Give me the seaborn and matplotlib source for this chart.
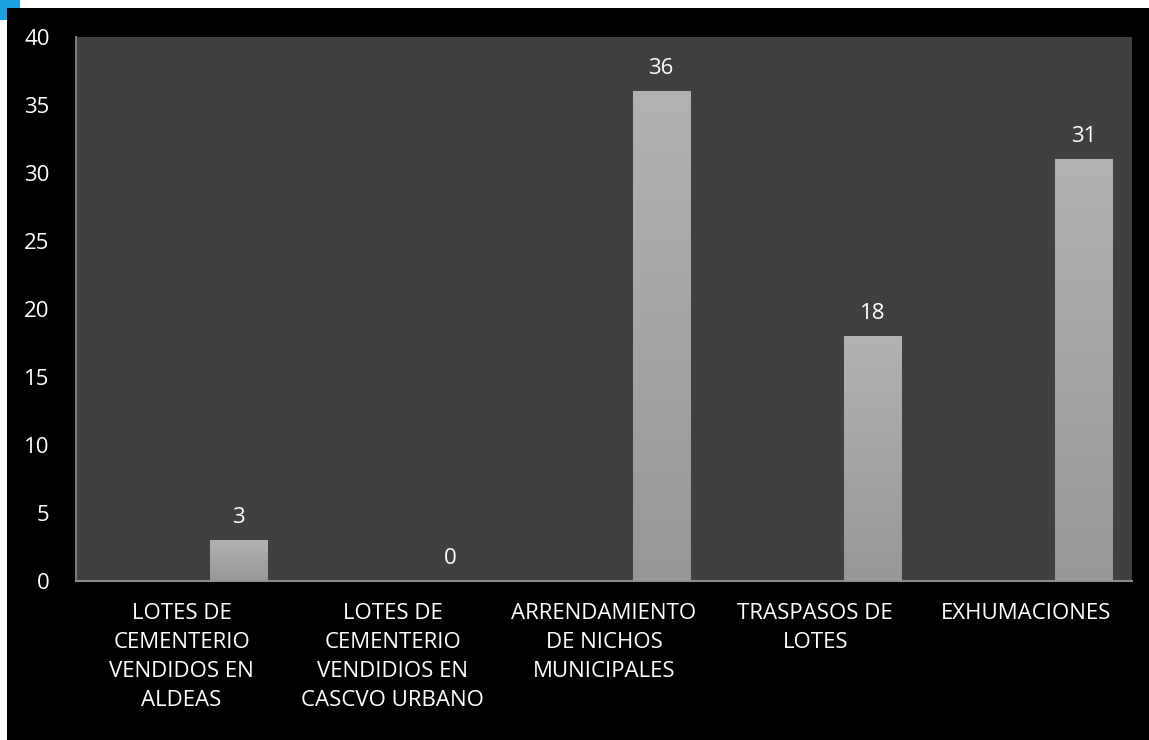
import numpy as np
import pandas as pd
import matplotlib
matplotlib.use("Agg")
from matplotlib import pyplot as plt
import seaborn as sns

# data
categorias = ["LOTES DE\nCEMENTERIO\nVENDIDOS EN\nALDEAS",
              "LOTES DE\nCEMENTERIO\nVENDIDIOS EN\nCASCVO URBANO",
              "ARRENDAMIENTO\nDE NICHOS\nMUNICIPALES",
              "TRASPASOS DE\nLOTES",
              "EXHUMACIONES"]
valores = [3, 0, 36, 18, 31]
series = ["s1", "s2", "s3"]   # the chart is the 3rd series of a 3-series cluster

df = pd.DataFrame({"cat": categorias, "val": valores, "serie": "s3"})

sns.set_theme(style="white")
plt.rcParams["font.family"] = ["Open Sans", "DejaVu Sans"]

fig = plt.figure(figsize=(11.49, 7.40), dpi=100)
fig.patch.set_facecolor("white")
# black chart frame
fig.patches.append(plt.Rectangle((7 / 1149, 0), 1, 1 - 8 / 740, transform=fig.transFigure,
                                 facecolor="black", edgecolor="none", zorder=-10))
# little blue corner mark top-left
fig.patches.append(plt.Polygon([(0, 1), (20 / 1149, 1), (20 / 1149, 1 - 8 / 740), (7 / 1149, 1 - 8 / 740),
                                (7 / 1149, 1 - 20 / 740), (0, 1 - 20 / 740)], closed=True,
                               transform=fig.transFigure, facecolor="#1ea0e0", edgecolor="none", zorder=-5))

ax = fig.add_axes([76 / 1149, 1 - 581 / 740, (1132 - 76) / 1149, (581 - 37) / 740])
ax.set_facecolor("#404040")

sns.barplot(data=df, x="cat", y="val", hue="serie", hue_order=series, order=categorias,
            width=0.81, dodge=True, palette=["#a6a6a6"] * 3, linewidth=0,
            legend=False, ax=ax)

ax.set_ylim(0, 40)
ax.set_xlim(-0.5, len(categorias) - 0.5)
ax.set_yticks(range(0, 41, 5))

# gradient fill + value labels
grad = np.linspace(0, 1, 256).reshape(-1, 1)
cmap = matplotlib.colors.LinearSegmentedColormap.from_list("g", ["#979797", "#b2b2b2"])
for p in list(ax.patches):
    h = p.get_height()
    if np.isnan(h):
        continue
    x0, w = p.get_x(), p.get_width()
    if h > 0:
        im = ax.imshow(grad, extent=[x0, x0 + w, 0, h], origin="lower", cmap=cmap,
                       aspect="auto", zorder=3)
        im.set_clip_path(p)
    ax.text(x0 + w / 2, h + 0.9, f"{int(h)}", ha="center", va="bottom",
            color="white", fontsize=16)
ax.set_xlim(-0.5, len(categorias) - 0.5)
ax.set_ylim(0, 40)

ax.tick_params(axis="y", colors="white", labelsize=16, length=0, pad=19)
ax.tick_params(axis="x", colors="white", labelsize=16, length=0, pad=16)
for lab in ax.get_xticklabels():
    lab.set_linespacing(1.5)
for side in ["top", "right"]:
    ax.spines[side].set_visible(False)
ax.spines["left"].set_color("#7a7a7a")
ax.spines["bottom"].set_color("#8a8a8a")
ax.spines["left"].set_linewidth(1.5)
ax.spines["bottom"].set_linewidth(1.5)
ax.set_xlabel("")
ax.set_ylabel("")
ax.grid(False)

fig.savefig("out.png", dpi=100, facecolor=fig.get_facecolor())
